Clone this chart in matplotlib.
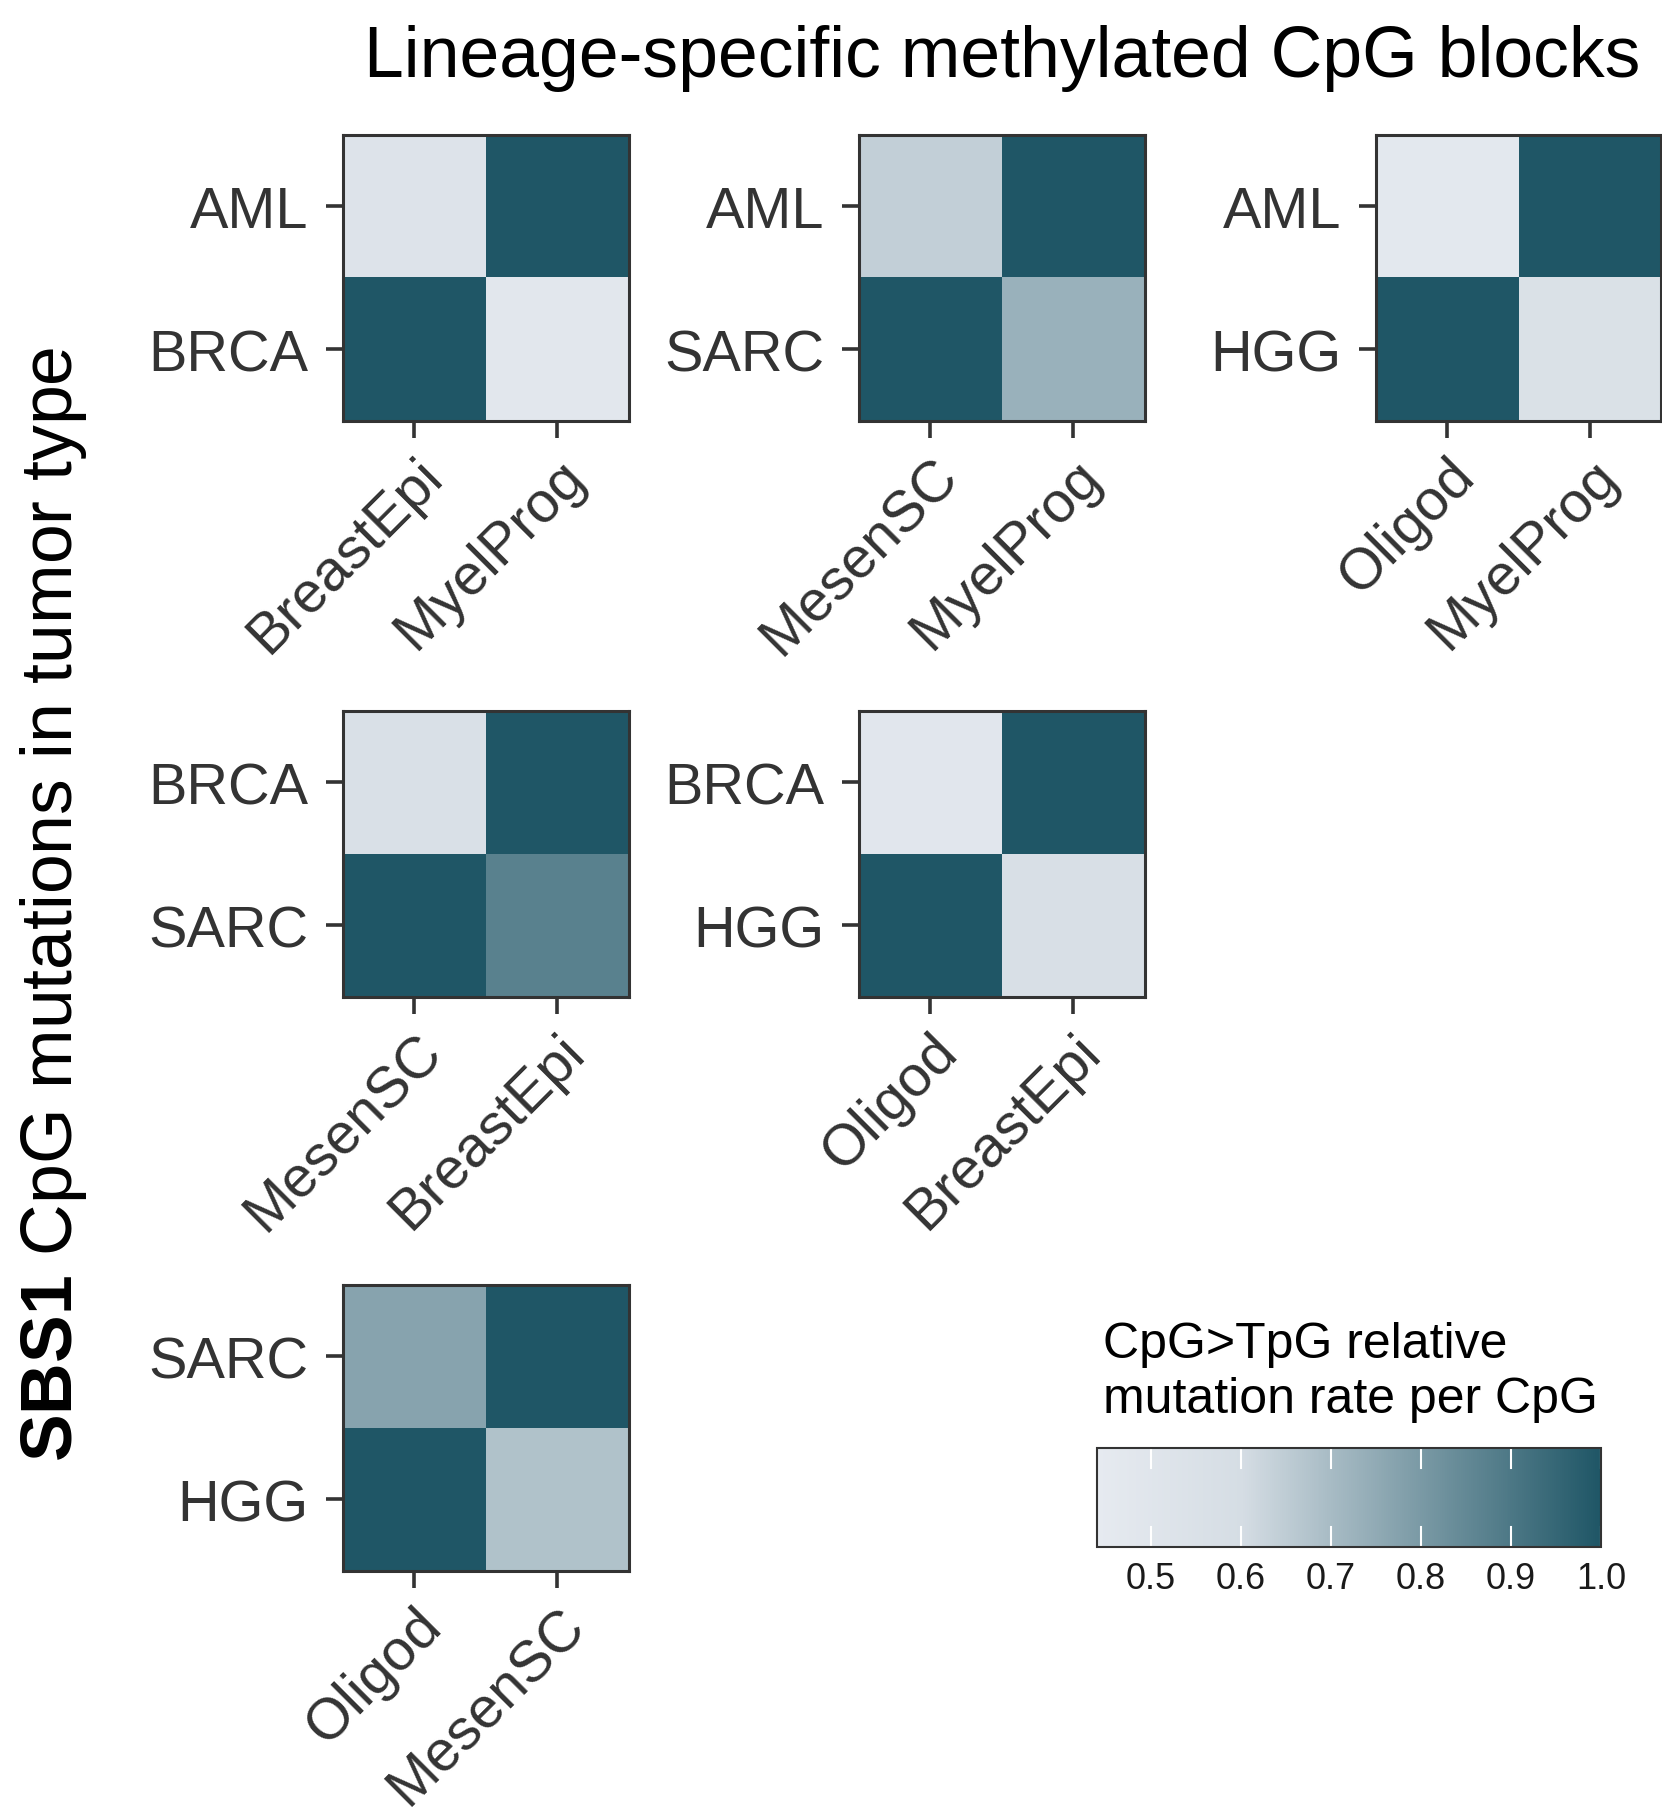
import numpy as np
import matplotlib
matplotlib.use("Agg")
import matplotlib.pyplot as plt
from matplotlib.colors import LinearSegmentedColormap, Normalize
from matplotlib.cm import ScalarMappable

plt.rcParams['font.family'] = ['Liberation Sans', 'DejaVu Sans']
plt.rcParams['mathtext.fontset'] = 'custom'
plt.rcParams['mathtext.rm'] = 'Liberation Sans'
plt.rcParams['mathtext.bf'] = 'Liberation Sans:bold'

# tumor type pairs (y axis, top to bottom) per panel
tumor_pairs = [
    ["AML", "BRCA"], ["AML", "SARC"], ["AML", "HGG"],
    ["BRCA", "SARC"], ["BRCA", "HGG"],
    ["SARC", "HGG"],
]
# lineage pairs (x axis, left to right) per panel
lineage_pairs = [
    ["BreastEpi", "MyelProg"], ["MesenSC", "MyelProg"], ["Oligod", "MyelProg"],
    ["MesenSC", "BreastEpi"], ["Oligod", "BreastEpi"],
    ["Oligod", "MesenSC"],
]
# relative CpG>TpG mutation rate, [[top-left, top-right], [bottom-left, bottom-right]]
rates = [
    [[0.52, 1.00], [1.00, 0.47]],
    [[0.64, 1.00], [1.00, 0.73]],
    [[0.46, 1.00], [1.00, 0.55]],
    [[0.56, 1.00], [1.00, 0.87]],
    [[0.48, 1.00], [1.00, 0.57]],
    [[0.77, 1.00], [1.00, 0.68]],
]
cbar_ticks = [0.5, 0.6, 0.7, 0.8, 0.9, 1.0]
vmin, vmax = 0.44, 1.0

cmap = LinearSegmentedColormap.from_list("cpg", [
    (0.0, "#E6EAF0"),
    ((0.60 - vmin) / (vmax - vmin), "#D5DDE4"),
    (1.0, "#1F5666"),
])

W, H = 1662, 1808
fig = plt.figure(figsize=(W / 100, H / 100), dpi=100)

lefts = [343, 859, 1376]
tops = [136, 712, 1286]
size = 285.5
grid_pos = [(0, 0), (0, 1), (0, 2), (1, 0), (1, 1), (2, 0)]
edge = "#333333"

for k, (r, c) in enumerate(grid_pos):
    ax = fig.add_axes([lefts[c] / W, 1 - (tops[r] + size) / H, size / W, size / H])
    ax.imshow(np.array(rates[k]), cmap=cmap, vmin=vmin, vmax=vmax,
              aspect='auto', interpolation='nearest')
    ax.set_xticks([0, 1])
    ax.set_yticks([0, 1])
    ax.set_xticklabels(lineage_pairs[k])
    ax.set_yticklabels(tumor_pairs[k])
    ax.tick_params(axis='both', labelsize=41.5, labelcolor=edge, color=edge,
                   length=12, width=2.6)
    ax.tick_params(axis='y', pad=13)
    ax.tick_params(axis='x', pad=8)
    plt.setp(ax.get_xticklabels(), rotation=45, ha='right', va='top',
             rotation_mode='anchor')
    for s in ax.spines.values():
        s.set_color(edge)
        s.set_linewidth(2.2)

# colorbar
cax = fig.add_axes([1097 / W, 1 - 1548 / H, 504 / W, 99 / H])
sm = ScalarMappable(norm=Normalize(vmin, vmax), cmap=cmap)
cb = fig.colorbar(sm, cax=cax, orientation='horizontal')
cb.set_ticks(cbar_ticks)
cb.set_ticklabels([f"{t:.1f}" for t in cbar_ticks])
cax.tick_params(length=0, labelsize=26, pad=10, labelcolor='#1a1a1a')
cb.outline.set_edgecolor(edge)
cb.outline.set_linewidth(1.5)
for t in cbar_ticks:
    cax.axvline(t, ymin=0, ymax=0.2, color='white', lw=1.5)
    cax.axvline(t, ymin=0.8, ymax=1, color='white', lw=1.5)

fig.text(1103 / W, 1 - 1322 / H, "CpG>TpG relative\nmutation rate per CpG",
         fontsize=36, ha='left', va='top', linespacing=1.25)

fig.text(1002 / W, 1 - 77 / H, "Lineage-specific methylated CpG blocks",
         fontsize=51.5, ha='center', va='baseline')
fig.text(54 / W, 0.5, r"$\bf{SBS1}$ CpG mutations in tumor type",
         fontsize=51.5, rotation=90, ha='center', va='center')

fig.savefig("out.png", dpi=100)
